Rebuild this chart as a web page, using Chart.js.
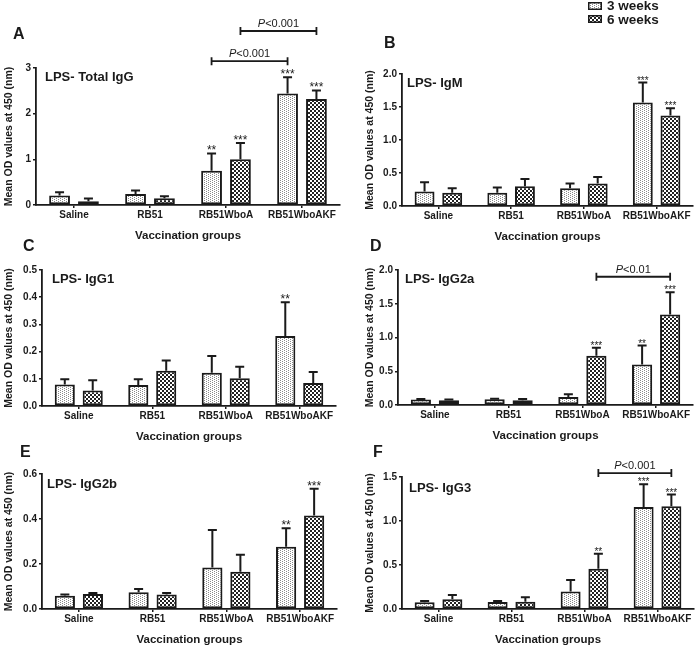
<!DOCTYPE html>
<html>
<head>
<meta charset="utf-8">
<script src="https://cdn.jsdelivr.net/npm/chart.js@4.4.0/dist/chart.umd.min.js"></script>
<style>
body { margin: 0; background: #fff; font-family: "Liberation Sans", Arial, sans-serif; }
#wrap { position: relative; width: 695px; height: 647px; overflow: hidden; }
canvas.plot { position: absolute; left: 0; top: 0; }
.lbl { position: absolute; font-weight: bold; color: #1a1a1a; white-space: nowrap; }
.letter { font-size: 16px; line-height: 16px; }
.sub { font-size: 13px; line-height: 13px; }
.leg { font-size: 13.5px; line-height: 13px; }
canvas.sw { position: absolute; }
</style>
</head>
<body>
<div id="wrap">
  <div class="lbl letter" style="left:13px;top:26px">A</div>
  <div class="lbl letter" style="left:384px;top:35px">B</div>
  <div class="lbl letter" style="left:23px;top:238px">C</div>
  <div class="lbl letter" style="left:370px;top:238px">D</div>
  <div class="lbl letter" style="left:20px;top:444px">E</div>
  <div class="lbl letter" style="left:373px;top:444px">F</div>

  <div class="lbl sub" style="left:45px;top:70px">LPS- Total IgG</div>
  <div class="lbl sub" style="left:407px;top:76px">LPS- IgM</div>
  <div class="lbl sub" style="left:52px;top:272px">LPS- IgG1</div>
  <div class="lbl sub" style="left:405px;top:272px">LPS- IgG2a</div>
  <div class="lbl sub" style="left:47px;top:477px">LPS- IgG2b</div>
  <div class="lbl sub" style="left:409px;top:481px">LPS- IgG3</div>

  <canvas class="sw" id="sw3" width="14" height="8" style="left:588px;top:2px"></canvas>
  <canvas class="sw" id="sw6" width="14" height="8" style="left:588px;top:15px"></canvas>
  <div class="lbl leg" style="left:607px;top:-1px">3 weeks</div>
  <div class="lbl leg" style="left:607px;top:13px">6 weeks</div>
</div>
<script>
const groups = ["Saline", "RB51", "RB51WboA", "RB51WboAKF"];
const series = ["3 weeks", "6 weeks"];

// LPS- Total IgG
const totalIgG3 = [0.21, 0.24, 0.75, 2.44];
const totalIgG3Err = [0.07, 0.08, 0.38, 0.36];
const totalIgG6 = [0.08, 0.15, 1.00, 2.32];
const totalIgG6Err = [0.06, 0.04, 0.36, 0.19];
const totalIgGStars3 = ["", "", "**", "***"];
const totalIgGStars6 = ["", "", "***", "***"];

// LPS- IgM
const igM3 = [0.22, 0.20, 0.27, 1.57];
const igM3Err = [0.14, 0.08, 0.07, 0.30];
const igM6 = [0.20, 0.30, 0.34, 1.37];
const igM6Err = [0.07, 0.11, 0.10, 0.11];
const igMStars3 = ["", "", "", "***"];
const igMStars6 = ["", "", "", "***"];

// LPS- IgG1
const igG1_3 = [0.079, 0.077, 0.122, 0.257];
const igG1_3Err = [0.019, 0.021, 0.062, 0.124];
const igG1_6 = [0.057, 0.130, 0.102, 0.085];
const igG1_6Err = [0.038, 0.037, 0.042, 0.040];
const igG1Stars3 = ["", "", "", "**"];
const igG1Stars6 = ["", "", "", ""];

// LPS- IgG2a
const igG2a3 = [0.08, 0.084, 0.12, 0.60];
const igG2a3Err = [0.01, 0.01, 0.04, 0.28];
const igG2a6 = [0.07, 0.07, 0.73, 1.34];
const igG2a6Err = [0.01, 0.02, 0.12, 0.33];
const igG2aStars3 = ["", "", "", "**"];
const igG2aStars6 = ["", "", "***", "***"];

// LPS- IgG2b
const igG2b3 = [0.059, 0.074, 0.185, 0.277];
const igG2b3Err = [0.005, 0.015, 0.166, 0.082];
const igG2b6 = [0.067, 0.065, 0.166, 0.416];
const igG2b6Err = [0.004, 0.006, 0.075, 0.119];
const igG2bStars3 = ["", "", "", "**"];
const igG2bStars6 = ["", "", "", "***"];

// LPS- IgG3
const igG3_3 = [0.076, 0.080, 0.20, 1.16];
const igG3_3Err = [0.014, 0.010, 0.13, 0.257];
const igG3_6 = [0.11, 0.083, 0.457, 1.167];
const igG3_6Err = [0.05, 0.05, 0.17, 0.133];
const igG3Stars3 = ["", "", "", "***"];
const igG3Stars6 = ["", "", "**", "***"];

// significance brackets: [group, series] -> [group, series] at a y value
const totalIgGBrackets = [
    { from: [2, 0], to: [3, 0], level: 3.15, label: "<0.001" },
    { from: [2, 1], to: [3, 1], level: 3.81, label: "<0.001" }
];
const igG2aBrackets = [{ from: [2, 1], to: [3, 1], level: 1.9, label: "<0.01" }];
const igG3Brackets = [{ from: [2, 1], to: [3, 1], level: 1.545, label: "<0.001" }];

const ink = "#1a1a1a";
Chart.defaults.color = ink;
Chart.defaults.font.family = '"Liberation Sans", Arial, sans-serif';

function makePattern(kind) {
    const c = document.createElement("canvas");
    const g = c.getContext("2d");
    if (kind === 3) {
        // fine grey stipple, staggered rows
        c.width = 4; c.height = 2;
        g.fillStyle = "#fff"; g.fillRect(0, 0, 4, 2);
        g.fillStyle = "#8a8a8a"; g.fillRect(0, 0, 1, 1); g.fillRect(2, 1, 1, 1);
    } else {
        // small checkerboard
        c.width = 4; c.height = 4;
        g.fillStyle = "#fff"; g.fillRect(0, 0, 4, 4);
        g.fillStyle = "#222"; g.fillRect(0, 0, 2, 2); g.fillRect(2, 2, 2, 2);
    }
    return g.createPattern(c, "repeat");
}
const fill3 = makePattern(3);
const fill6 = makePattern(6);

["sw3", "sw6"].forEach((id, k) => {
    const g = document.getElementById(id).getContext("2d");
    g.fillStyle = k === 0 ? fill3 : fill6;
    g.fillRect(0, 0, 14, 8);
    g.strokeStyle = ink; g.lineWidth = 1.5;
    g.strokeRect(0.75, 0.75, 12.5, 6.5);
});

function marksPlugin(brackets, starSize) {
    return {
        id: "marks",
        afterDatasetsDraw(chart) {
            const { ctx } = chart;
            const y = chart.scales.y;
            ctx.save();
            ctx.strokeStyle = ink;
            ctx.fillStyle = ink;
            ctx.lineWidth = 2;
            chart.data.datasets.forEach((ds, i) => {
                chart.getDatasetMeta(i).data.forEach((bar, j) => {
                    const top = y.getPixelForValue(ds.data[j]);
                    const end = y.getPixelForValue(ds.data[j] + ds.err[j]);
                    ctx.beginPath();
                    ctx.moveTo(bar.x, top);
                    ctx.lineTo(bar.x, end);
                    ctx.moveTo(bar.x - 4.5, end);
                    ctx.lineTo(bar.x + 4.5, end);
                    ctx.stroke();
                    if (ds.stars[j]) {
                        ctx.font = starSize + "px " + Chart.defaults.font.family;
                        ctx.textAlign = "center";
                        ctx.textBaseline = "alphabetic";
                        ctx.fillText(ds.stars[j], bar.x, end + 1);
                    }
                });
            });
            brackets.forEach(b => {
                const x1 = chart.getDatasetMeta(b.from[1]).data[b.from[0]].x;
                const x2 = chart.getDatasetMeta(b.to[1]).data[b.to[0]].x;
                const yy = y.getPixelForValue(b.level);
                ctx.lineWidth = 1.8;
                ctx.beginPath();
                ctx.moveTo(x1, yy); ctx.lineTo(x2, yy);
                ctx.moveTo(x1, yy - 4); ctx.lineTo(x1, yy + 4);
                ctx.moveTo(x2, yy - 4); ctx.lineTo(x2, yy + 4);
                ctx.stroke();
                const fam = Chart.defaults.font.family;
                ctx.font = "italic 11px " + fam;
                const wP = ctx.measureText("P").width;
                ctx.font = "11px " + fam;
                const wR = ctx.measureText(b.label).width;
                const sx = (x1 + x2) / 2 - (wP + wR) / 2;
                ctx.textAlign = "left";
                ctx.textBaseline = "alphabetic";
                ctx.font = "italic 11px " + fam;
                ctx.fillText("P", sx, yy - 4);
                ctx.font = "11px " + fam;
                ctx.fillText(b.label, sx + wP, yy - 4);
            });
            ctx.restore();
        }
    };
}

// chart area boxes in page pixels
const panels = [
    { v3: totalIgG3, e3: totalIgG3Err, v6: totalIgG6, e6: totalIgG6Err, s3: totalIgGStars3, s6: totalIgGStars6,
      br: totalIgGBrackets, max: 3, step: 1, dec: 0, star: 12, box: 0, l: 36, r: 340, t: 68, b: 205 },
    { v3: igM3, e3: igM3Err, v6: igM6, e6: igM6Err, s3: igMStars3, s6: igMStars6,
      br: [], max: 2, step: 0.5, dec: 1, star: 10, box: 361, l: 402, r: 693, t: 74, b: 206 },
    { v3: igG1_3, e3: igG1_3Err, v6: igG1_6, e6: igG1_6Err, s3: igG1Stars3, s6: igG1Stars6,
      br: [], max: 0.5, step: 0.1, dec: 1, star: 12, box: 0, l: 42, r: 336, t: 270, b: 406 },
    { v3: igG2a3, e3: igG2a3Err, v6: igG2a6, e6: igG2a6Err, s3: igG2aStars3, s6: igG2aStars6,
      br: igG2aBrackets, max: 2, step: 0.5, dec: 1, star: 10, box: 361, l: 398, r: 693, t: 270, b: 405 },
    { v3: igG2b3, e3: igG2b3Err, v6: igG2b6, e6: igG2b6Err, s3: igG2bStars3, s6: igG2bStars6,
      br: [], max: 0.6, step: 0.2, dec: 1, star: 12, box: 0, l: 42, r: 337, t: 474, b: 609 },
    { v3: igG3_3, e3: igG3_3Err, v6: igG3_6, e6: igG3_6Err, s3: igG3Stars3, s6: igG3Stars6,
      br: igG3Brackets, max: 1.5, step: 0.5, dec: 1, star: 10, box: 361, l: 402, r: 694, t: 477, b: 609 }
];

const W = 695, H = 647, xAxisH = 40;
const wrap = document.getElementById("wrap");

panels.forEach(p => {
    const cv = document.createElement("canvas");
    cv.className = "plot";
    cv.width = W; cv.height = H;
    wrap.insertBefore(cv, wrap.firstChild);
    const barStyle = { borderColor: ink, borderWidth: 2, borderSkipped: false,
                       categoryPercentage: 0.76, barPercentage: 0.72 };
    new Chart(cv, {
        type: "bar",
        data: {
            labels: groups,
            datasets: [
                Object.assign({ label: series[0], data: p.v3, err: p.e3, stars: p.s3, backgroundColor: fill3 }, barStyle),
                Object.assign({ label: series[1], data: p.v6, err: p.e6, stars: p.s6, backgroundColor: fill6 }, barStyle)
            ]
        },
        options: {
            responsive: false,
            animation: false,
            events: [],
            layout: { padding: { left: p.box, right: W - p.r, top: p.t, bottom: H - p.b - xAxisH } },
            plugins: { legend: { display: false }, tooltip: { enabled: false } },
            scales: {
                x: {
                    grid: { display: true, drawOnChartArea: false, tickLength: 3, color: ink, lineWidth: 1.5, offset: false },
                    border: { color: ink, width: 1.8 },
                    ticks: { font: { size: 10, weight: "bold" }, padding: 1, maxRotation: 0, autoSkip: false },
                    title: { display: true, text: "Vaccination groups", font: { size: 11.5, weight: "bold" }, padding: { top: 0, bottom: 2 } },
                    afterFit: s => { s.height = xAxisH; }
                },
                y: {
                    min: 0, max: p.max,
                    grid: { display: true, drawOnChartArea: false, tickLength: 3, color: ink, lineWidth: 1.5 },
                    border: { color: ink, width: 1.8 },
                    ticks: { stepSize: p.step, font: { size: 10, weight: "bold" }, padding: 2,
                             callback: v => Number(v).toFixed(p.dec) },
                    title: { display: true, text: "Mean OD values at 450 (nm)", font: { size: 10.5, weight: "bold" }, padding: { top: 3, bottom: 3 } },
                    afterFit: s => { s.width = p.l - p.box; }
                }
            }
        },
        plugins: [marksPlugin(p.br, p.star)]
    });
});
</script>
</body>
</html>
